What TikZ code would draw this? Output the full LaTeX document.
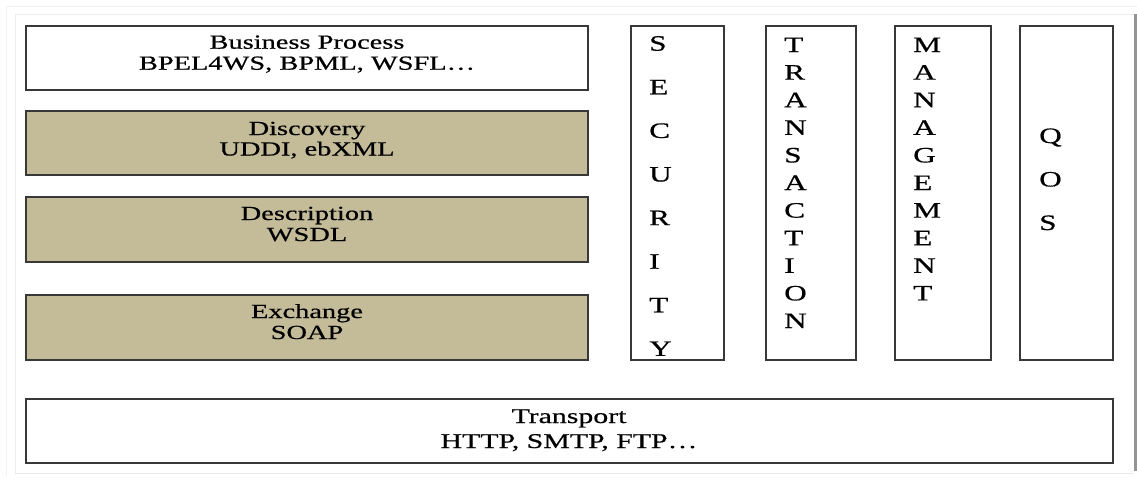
\documentclass[tikz,border=0pt]{standalone}
\usepackage{fontspec}
\setmainfont{Liberation Serif}[FakeStretch=1.42,FakeBold=0.6]
\begin{document}
\begin{tikzpicture}[x=1pt,y=-1pt,
  layer/.style={draw=black!78, line width=1.5pt, anchor=north west, inner sep=0pt, outer sep=0pt},
  tan/.style={fill=tanfill},
  lbl/.style={anchor=base, inner sep=0pt, text=black, font=\fontsize{20}{24}\selectfont},
  biglbl/.style={anchor=base, inner sep=0pt, text=black, font=\fontsize{21}{25}\selectfont},
  letter/.style={anchor=base west, inner sep=0pt, text=black, font=\fontsize{22}{26}\selectfont}]
\definecolor{tanfill}{HTML}{C4BC98}
\useasboundingbox (0,0) rectangle (1137,477);
\fill[white] (0,0) rectangle (1137,477);
% faint frame
\draw[black!5, line width=0.8pt] (6.5,477) -- (6.5,6.5) -- (1137,6.5);
\draw[black!7, line width=0.8pt] (15,473) -- (15,14) -- (1134,14);
\draw[black!9, line width=0.8pt] (15,473) -- (1134,473);
\draw[black!42, line width=3pt] (1135.5,14) -- (1135.5,471);
% left stack
\node[layer, minimum width=562pt, minimum height=64pt] (bp) at (26,26) {};
\node[layer, tan, minimum width=562pt, minimum height=64pt] (disc) at (26,111) {};
\node[layer, tan, minimum width=562pt, minimum height=65pt] (desc) at (26,197) {};
\node[layer, tan, minimum width=562pt, minimum height=65pt] (exch) at (26,295) {};
% vertical columns
\node[layer, minimum width=93pt, minimum height=334pt] (sec) at (631,26) {};
\node[layer, minimum width=90pt, minimum height=334pt] (trans) at (766,26) {};
\node[layer, minimum width=96pt, minimum height=334pt] (mgmt) at (895,26) {};
\node[layer, minimum width=93pt, minimum height=334pt] (qos) at (1020,26) {};
% transport
\node[layer, minimum width=1087pt, minimum height=64pt] (tp) at (26,399) {};
% texts
\node[lbl] (bp1) at (307,48.7) {Business Process};
\node[lbl] (bp2) at (307,69.7) {BPEL4WS, BPML, WSFL\ldots};
\node[lbl] (disc1) at (307,135) {Discovery};
\node[lbl] (disc2) at (307,155.5) {UDDI, ebXML};
\node[lbl] (desc1) at (307,220) {Description};
\node[lbl] (desc2) at (307,241) {WSDL};
\node[lbl] (exch1) at (307,318) {Exchange};
\node[lbl] (exch2) at (307,339) {SOAP};
\node[biglbl] (tp1) at (569,423) {Transport};
\node[biglbl] (tp2) at (569,448) {HTTP, SMTP, FTP\ldots};
% vertical letters
\foreach \c [count=\i from 0] in {S,E,C,U,R,I,T,Y}
  \node[letter] (sec\i) at (649,50.7+43.6*\i) {\c};
\foreach \c [count=\i from 0] in {T,R,A,N,S,A,C,T,I,O,N}
  \node[letter] (trans\i) at (784,52+27.6*\i) {\c};
\foreach \c [count=\i from 0] in {M,A,N,A,G,E,M,E,N,T}
  \node[letter] (mgmt\i) at (913,52+27.6*\i) {\c};
\foreach \c [count=\i from 0] in {Q,O,S}
  \node[letter] (qos\i) at (1039,143+43.5*\i) {\c};
\end{tikzpicture}
\end{document}
